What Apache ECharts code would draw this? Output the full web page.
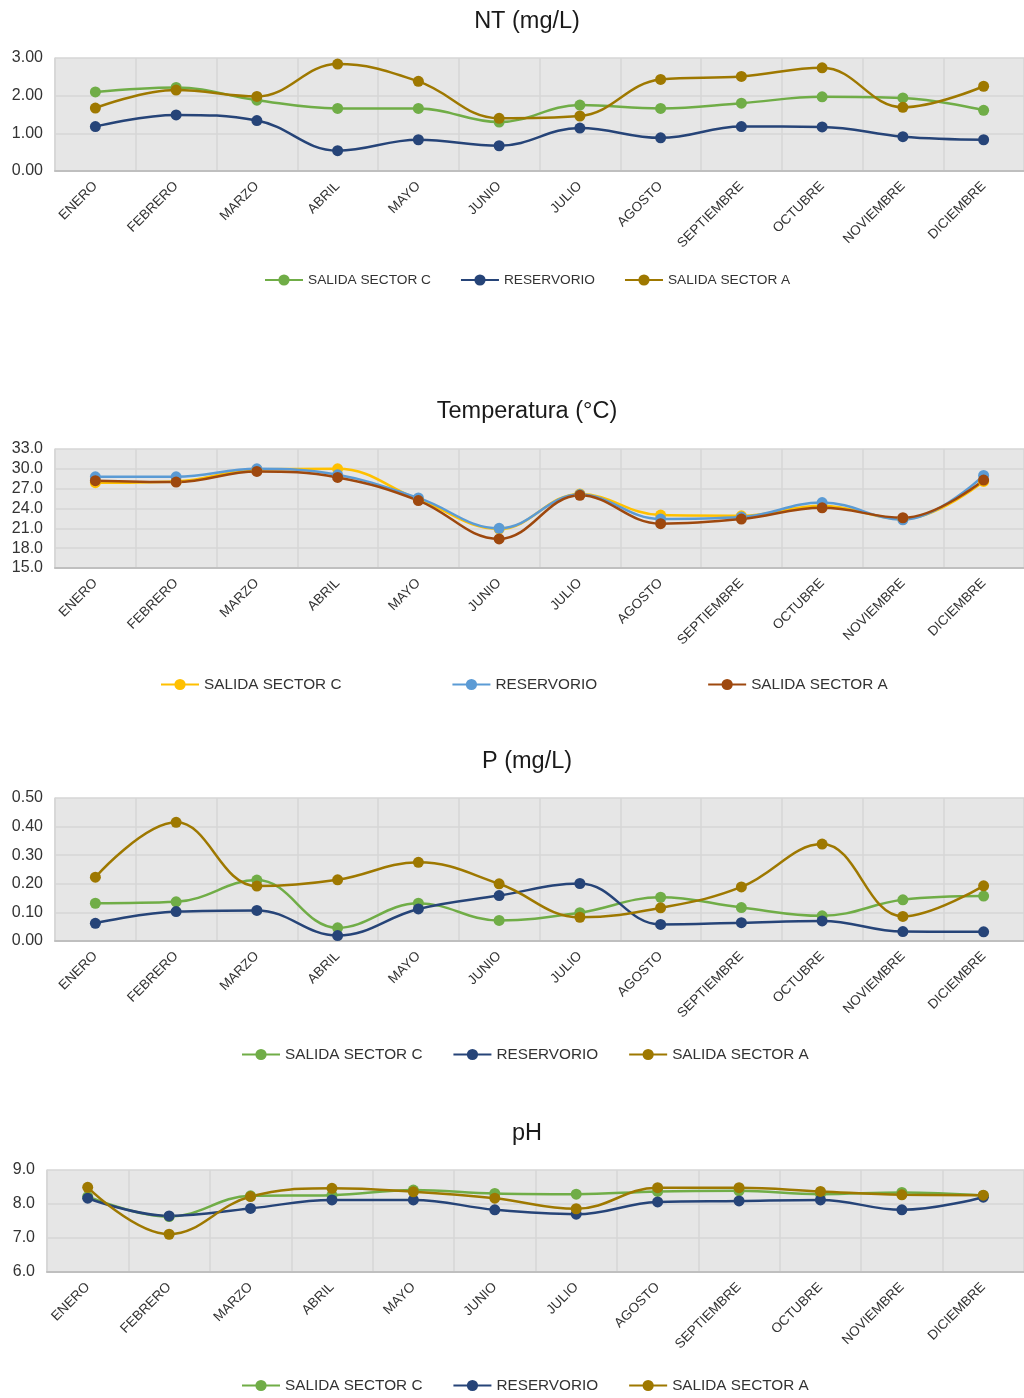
<!DOCTYPE html>
<html>
<head>
<meta charset="utf-8">
<script src="https://cdn.jsdelivr.net/npm/echarts@6/dist/echarts.min.js"></script>
<style>
html,body{margin:0;padding:0;background:#fff;width:1024px;height:1398px;overflow:hidden;}
.c{position:absolute;left:0;top:0;width:1024px;height:1398px;}
</style>
</head>
<body>
<div id="c1" class="c"></div>
<div id="c2" class="c"></div>
<div id="c3" class="c"></div>
<div id="c4" class="c"></div>
<script>
// ---- data ----
const months = ['ENERO','FEBRERO','MARZO','ABRIL','MAYO','JUNIO','JULIO','AGOSTO','SEPTIEMBRE','OCTUBRE','NOVIEMBRE','DICIEMBRE'];
const seriesNames = ['SALIDA SECTOR C','RESERVORIO','SALIDA SECTOR A'];

const ntTitle = 'NT (mg/L)';
const ntTicks = [0, 1, 2, 3];
const ntSectorC   = [2.10, 2.22, 1.88, 1.66, 1.66, 1.30, 1.75, 1.66, 1.80, 1.97, 1.94, 1.61];
const ntReservorio= [1.18, 1.49, 1.34, 0.54, 0.83, 0.67, 1.14, 0.88, 1.18, 1.17, 0.91, 0.83];
const ntSectorA   = [1.67, 2.15, 1.98, 2.84, 2.38, 1.40, 1.46, 2.43, 2.51, 2.74, 1.69, 2.25];

const tempTitle = 'Temperatura (°C)';
const tempTicks = [15, 18, 21, 24, 27, 30, 33];
const tempSectorC   = [27.9, 28.1, 29.9, 30.0, 25.4, 20.9, 26.2, 23.0, 22.9, 24.4, 22.4, 28.1];
const tempReservorio= [28.8, 28.8, 30.0, 29.1, 25.6, 21.0, 26.1, 22.4, 22.7, 24.9, 22.3, 29.0];
const tempSectorA   = [28.2, 28.0, 29.6, 28.7, 25.2, 19.4, 26.0, 21.7, 22.4, 24.1, 22.6, 28.3];

const pTitle = 'P (mg/L)';
const pTicks = [0, 0.1, 0.2, 0.3, 0.4, 0.5];
const pSectorC   = [0.132, 0.137, 0.213, 0.046, 0.132, 0.072, 0.099, 0.153, 0.117, 0.088, 0.144, 0.157];
const pReservorio= [0.062, 0.103, 0.107, 0.019, 0.112, 0.159, 0.201, 0.058, 0.064, 0.070, 0.033, 0.032];
const pSectorA   = [0.223, 0.415, 0.192, 0.214, 0.275, 0.200, 0.083, 0.116, 0.189, 0.339, 0.086, 0.193];

const phTitle = 'pH';
const phTicks = [6, 7, 8, 9];
const phSectorC   = [8.22, 7.63, 8.24, 8.26, 8.41, 8.31, 8.29, 8.37, 8.39, 8.29, 8.34, 8.25];
const phReservorio= [8.17, 7.65, 7.87, 8.12, 8.12, 7.83, 7.70, 8.06, 8.09, 8.12, 7.83, 8.20];
const phSectorA   = [8.49, 7.11, 8.22, 8.46, 8.36, 8.17, 7.86, 8.48, 8.48, 8.37, 8.27, 8.26];

// ---- styles ----
const FONT = "'Liberation Sans', Arial, sans-serif";
const colorsA = ['#70AD47', '#264478', '#9E7800'];
const colorsT = ['#FFC000', '#5B9BD5', '#9E480E'];

function build(cfg) {
  const ticks = cfg.ticks;
  return {
    animation: false,
    textStyle: { fontFamily: FONT },
    title: {
      text: cfg.title, left: cfg.titleX, top: cfg.titleY, textAlign: 'center', padding: 0,
      textStyle: { fontFamily: FONT, fontSize: 23.5, fontWeight: 'normal', color: '#1a1a1a' }
    },
    legend: {
      left: cfg.legendX, top: cfg.legendY, itemGap: cfg.legendGap, itemWidth: 38, itemHeight: 14, padding: 0,
      textStyle: { fontFamily: FONT, fontSize: cfg.legendFont, color: '#333333' },
      data: seriesNames
    },
    grid: {
      left: cfg.left, top: cfg.top, width: cfg.width, height: cfg.height,
      show: true, backgroundColor: '#E6E6E6', borderWidth: 0
    },
    xAxis: {
      type: 'category', data: months, boundaryGap: true,
      axisLine: { show: true, lineStyle: { color: '#BFBFBF', width: 2 } },
      axisTick: { show: false },
      splitLine: { show: true, lineStyle: { color: '#D6D6D6', width: 1.5 } },
      axisLabel: { rotate: 45, margin: 13, fontFamily: FONT, fontSize: 13.5, color: '#333333', interval: 0 }
    },
    yAxis: {
      type: 'value', min: ticks[0], max: ticks[ticks.length - 1], interval: ticks[1] - ticks[0],
      axisLine: { show: true, lineStyle: { color: '#D6D6D6', width: 1.5 } },
      axisTick: { show: false },
      splitLine: { show: true, lineStyle: { color: '#D6D6D6', width: 1.5 } },
      axisLabel: {
        margin: 12, fontFamily: FONT, fontSize: 16, color: '#333333',
        formatter: v => v.toFixed(cfg.decimals)
      }
    },
    series: cfg.data.map((d, i) => ({
      name: seriesNames[i], type: 'line', data: d, smooth: 0.4,
      symbol: 'circle', symbolSize: 11,
      lineStyle: { width: 2.5, color: cfg.colors[i] },
      itemStyle: { color: cfg.colors[i] }
    }))
  };
}

const charts = [
  { id: 'c1', title: ntTitle, titleX: 527, titleY: 10, ticks: ntTicks, decimals: 2,
    left: 55, top: 58, width: 976, height: 113,
    legendX: 264, legendY: 273, legendGap: 29, legendFont: 13.7,
    data: [ntSectorC, ntReservorio, ntSectorA], colors: colorsA },
  { id: 'c2', title: tempTitle, titleX: 527, titleY: 400, ticks: tempTicks, decimals: 1,
    left: 55, top: 449, width: 976, height: 119,
    legendX: 160, legendY: 677, legendGap: 110, legendFont: 15.3,
    data: [tempSectorC, tempReservorio, tempSectorA], colors: colorsT },
  { id: 'c3', title: pTitle, titleX: 527, titleY: 750, ticks: pTicks, decimals: 2,
    left: 55, top: 798, width: 976, height: 143,
    legendX: 241, legendY: 1047, legendGap: 30, legendFont: 15.3,
    data: [pSectorC, pReservorio, pSectorA], colors: colorsA },
  { id: 'c4', title: phTitle, titleX: 527, titleY: 1122, ticks: phTicks, decimals: 1,
    left: 47, top: 1170, width: 985, height: 102,
    legendX: 241, legendY: 1378, legendGap: 30, legendFont: 15.3,
    data: [phSectorC, phReservorio, phSectorA], colors: colorsA }
];

charts.forEach(cfg => {
  const ch = echarts.init(document.getElementById(cfg.id), null, { renderer: 'canvas' });
  ch.setOption(build(cfg));
});
</script>
</body>
</html>
